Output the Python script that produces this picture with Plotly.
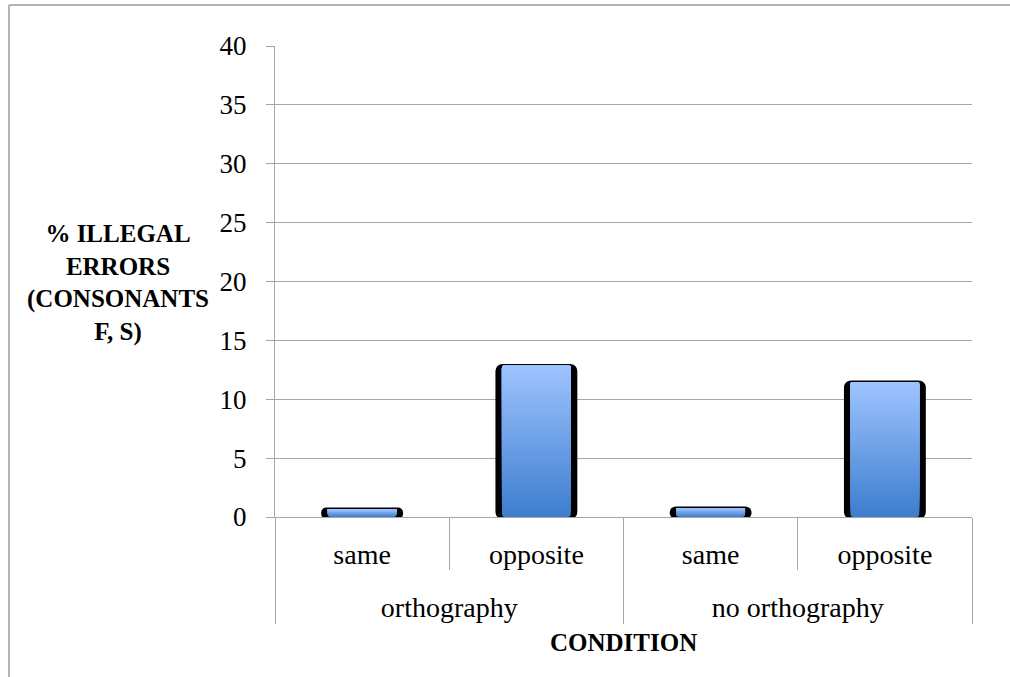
import plotly.graph_objects as go

# Illegal-error percentages for the F/S consonant condition
groups = ["orthography", "orthography", "no orthography", "no orthography"]
conditions = ["same", "opposite", "same", "opposite"]
values = [0.8, 13.0, 0.9, 11.6]

y_ticks = [0, 5, 10, 15, 20, 25, 30, 35, 40]

FONT = "Liberation Serif"
GRID = "#A6A6A6"
FRAME = "#B3B3B3"
TOP_RGB = (157, 195, 255)
BOTTOM_RGB = (62, 126, 206)
N_STEPS = 40
PX_PER_UNIT = 471 / 40.0

fig = go.Figure()

# inner level label carries a small spacer line so the group labels sit lower
inner_labels = [c + "<br><span style='font-size:10px'> </span>" for c in conditions]
x_cats = [groups, inner_labels]

# dark backing shape of each bar (gives the black side edges and rounded top)
edge = 2.0 / PX_PER_UNIT
fig.add_trace(go.Bar(
    x=x_cats,
    y=[v + edge for v in values],
    base=[-edge] * len(values),
    width=0.47,
    marker=dict(color="#000000", line=dict(width=0), cornerradius=7),
    hoverinfo="skip",
    showlegend=False,
))

# vertical gradient fill: each layer starts higher and is painted over the previous
inset = 1.6 / PX_PER_UNIT
inner = [max(v - inset, 0) for v in values]
for k in range(N_STEPS):
    t = k / (N_STEPS - 1)
    r = round(BOTTOM_RGB[0] + (TOP_RGB[0] - BOTTOM_RGB[0]) * t)
    g = round(BOTTOM_RGB[1] + (TOP_RGB[1] - BOTTOM_RGB[1]) * t)
    b = round(BOTTOM_RGB[2] + (TOP_RGB[2] - BOTTOM_RGB[2]) * t)
    bases = [h * k / N_STEPS for h in inner]
    fig.add_trace(go.Bar(
        x=x_cats,
        y=[h - b0 for h, b0 in zip(inner, bases)],
        base=bases,
        width=0.395,
        marker=dict(color=f"rgb({r},{g},{b})", line=dict(width=0), cornerradius=3),
        hoverinfo="skip",
        showlegend=False,
    ))

fig.update_layout(
    width=1010,
    height=677,
    margin=dict(l=275, r=38, t=46, b=160),
    paper_bgcolor="white",
    plot_bgcolor="white",
    barmode="overlay",
    font=dict(family=FONT, size=26, color="#000000"),
    xaxis=dict(
        type="multicategory",
        showline=True,
        linecolor=GRID,
        linewidth=1,
        ticks="outside",
        tickson="boundaries",
        ticklen=52,
        tickcolor=GRID,
        tickwidth=1,
        ticklabelstandoff=12,
        showdividers=True,
        dividercolor=GRID,
        dividerwidth=1,
        showgrid=False,
        tickfont=dict(family=FONT, size=28),
    ),
    yaxis=dict(
        range=[0, 40],
        tickvals=y_ticks,
        ticktext=[str(v) for v in y_ticks],
        showgrid=True,
        gridcolor=GRID,
        gridwidth=1,
        showline=True,
        linecolor=GRID,
        linewidth=1,
        ticks="outside",
        ticklen=8,
        tickcolor=GRID,
        ticklabelstandoff=14,
        zeroline=False,
        tickfont=dict(family=FONT, size=27),
    ),
    annotations=[
        dict(
            text="% ILLEGAL<br>ERRORS<br>(CONSONANTS<br>F, S)",
            xref="paper", yref="paper",
            x=-0.2253, y=0.497,
            xanchor="center", yanchor="middle", align="center",
            showarrow=False,
            font=dict(family=FONT, size=25, weight="bold"),
        ),
        dict(
            text="CONDITION",
            xref="paper", yref="paper",
            x=0.5, y=-0.2675,
            xanchor="center", yanchor="middle",
            showarrow=False,
            font=dict(family=FONT, size=25, weight="bold"),
        ),
    ],
    shapes=[
        # outer chart frame: top and left edges
        dict(type="line", xref="paper", yref="paper",
             x0=-0.3816, y0=1.087, x1=1.6, y1=1.087,
             line=dict(color=FRAME, width=2), layer="below"),
        dict(type="line", xref="paper", yref="paper",
             x0=-0.3816, y0=1.087, x1=-0.3816, y1=-0.8,
             line=dict(color=FRAME, width=2), layer="below"),
    ],
)

fig.write_html("out.html", config={"displayModeBar": False})
